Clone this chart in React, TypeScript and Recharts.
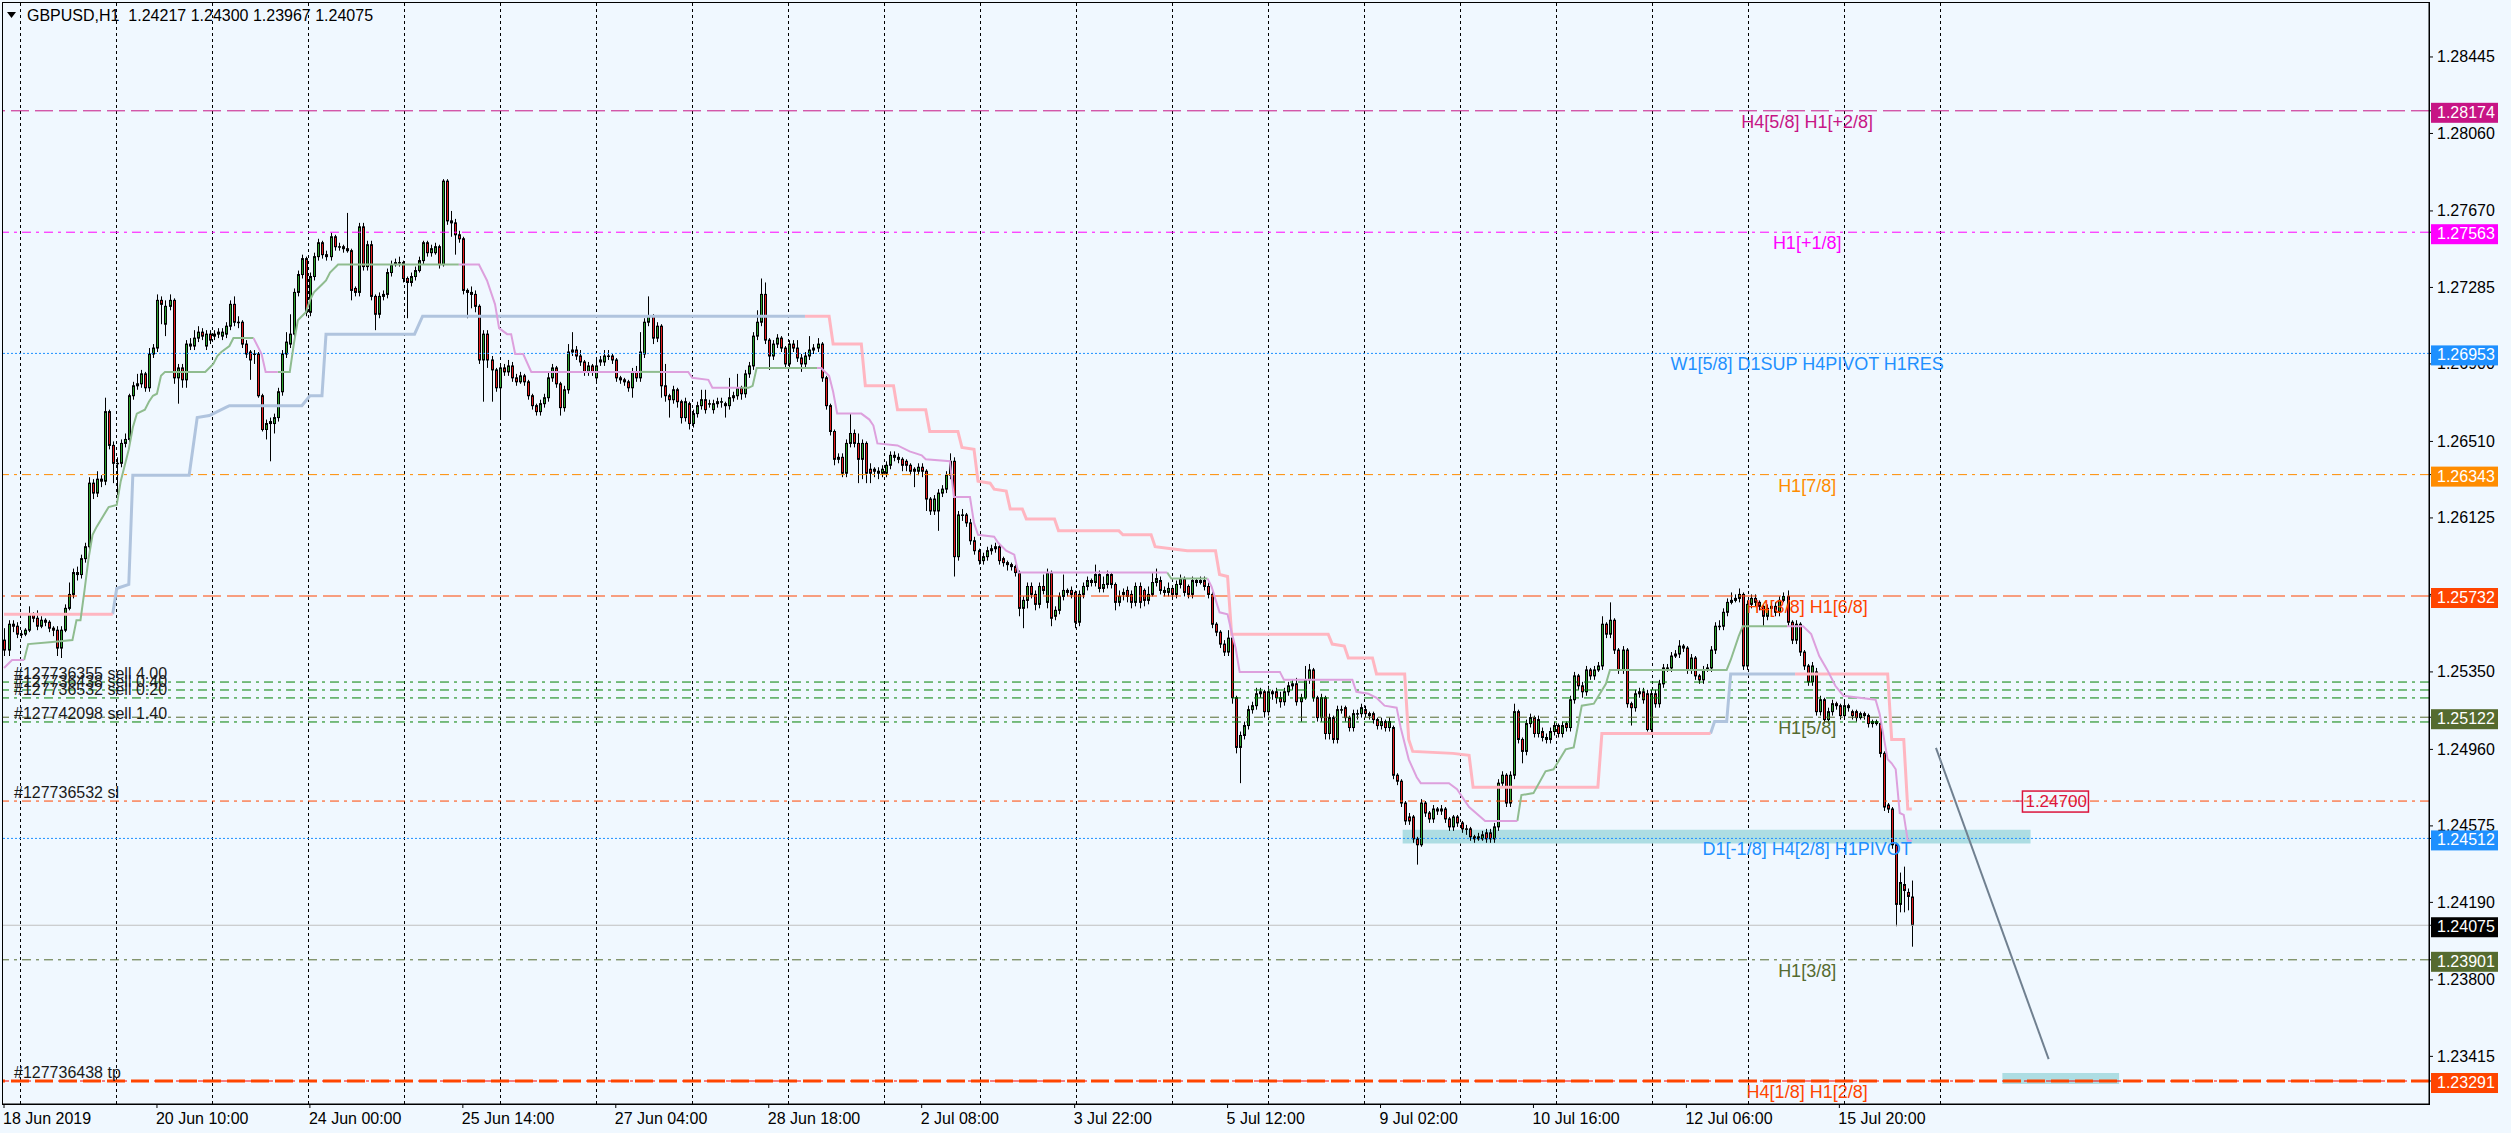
import React from 'react';
import {
  ComposedChart, Bar, Line, XAxis, YAxis, CartesianGrid,
  ReferenceLine, ReferenceArea, ReferenceDot,
} from 'recharts';

const W = 2511;
const H = 1133;
const SLOTS = 603; // 475 H1 bars + empty space on the right
const FONT = '"Liberation Sans", Arial, sans-serif';
const BASE = 1.2; // bar values are pips above 1.2000

// [open, high, low, close]
const jun18to21 = [
  [551,557,543,546],[546,561,543,559],[559,561,555,558],[558,560,552,554],[554,556,552,554],[554,557,553,556],
  [556,568,555,564],[564,565,560,562],[562,566,556,558],[558,563,557,561],[561,562,558,560],[560,561,555,557],
  [557,558,553,556],[556,558,543,547],[547,558,542,556],[556,569,555,567],[567,580,566,574],[574,587,572,585],
  [585,588,581,584],[584,594,582,592],[592,600,590,598],[598,633,596,630],[630,632,622,625],[625,636,623,632],
  [632,634,628,631],[631,673,629,666],[666,667,647,649],[649,651,630,640],[640,643,624,640],[640,652,638,650],
  [650,655,648,652],[652,675,650,674],[674,681,672,679],[679,685,677,680],[680,687,678,685],[685,686,676,678],
  [678,698,676,695],[695,700,693,698],[698,725,696,722],[722,724,710,720],[710,722,704,719],[719,725,717,722],
  [722,723,680,683],[683,690,670,688],[688,690,678,682],[682,702,678,700],[699,703,697,700],[699,707,697,703],
  [703,709,701,706],[706,708,702,704],[699,707,697,705],[705,707,700,702],[704,707,702,705],[705,708,703,706],
  [704,708,702,706],[705,711,703,709],[709,722,707,720],[720,724,709,711],[711,714,708,711],[711,712,698,700],
  [700,702,693,695],[696,697,682,692],[695,697,690,695],[695,696,673,674],[674,675,656,657],[657,662,652,660],
  [660,663,641,661],[660,665,655,663],[663,678,661,676],[676,697,674,695],[695,706,693,701],[700,715,698,705],
  [705,728,703,726],[726,737,724,735],[735,745,733,743],[743,744,714,716],
];
const jun24to28 = [
  [716,736,714,734],[734,746,732,744],[744,753,742,751],[751,752,743,745],[745,747,742,744],[744,756,742,754],
  [754,755,747,749],[749,751,747,749],[749,750,746,748],[748,766,746,747],[747,748,722,727],[728,729,724,726],
  [726,761,724,759],[759,761,737,739],[739,752,737,750],[750,752,722,724],[724,725,707,715],[715,726,713,724],
  [724,727,722,725],[725,738,723,736],[736,742,734,740],[740,743,739,741],[741,744,739,741],[741,742,731,733],
  [733,734,713,731],[731,736,729,734],[734,739,732,737],[737,744,736,742],[742,752,740,751],[751,752,744,746],
  [746,750,744,748],[746,751,745,749],[749,750,738,740],[740,783,739,782],[782,783,760,762],[762,767,754,761],
  [761,763,745,755],[755,757,751,753],[753,754,725,727],[727,728,713,726],[726,729,718,725],[725,727,716,719],
  [719,720,690,692],[692,707,671,705],[705,707,688,692],[692,694,671,687],[687,688,676,678],[678,690,662,688],
  [688,690,684,686],[686,692,684,689],[689,691,681,683],[683,685,679,681],[681,686,680,684],[684,685,679,681],
  [681,682,672,674],[674,675,667,669],[669,670,664,666],[666,672,664,670],[670,675,668,673],[673,686,671,683],
  [683,690,681,688],[688,689,678,680],[680,681,664,668],[668,679,666,677],[677,700,675,696],[696,706,694,697],
  [697,699,692,694],[694,697,689,691],[691,692,684,686],[686,691,684,689],[689,690,684,686],[683,692,681,689],
  [692,694,689,691],[691,697,689,694],[694,697,692,694],[694,695,690,692],[692,693,681,683],[683,684,680,682],
  [682,683,679,681],[681,682,676,678],[678,688,673,686],[686,689,681,683],[683,706,681,696],[695,713,693,711],
  [711,724,709,714],[714,715,700,703],[703,711,701,709],[709,710,673,679],[679,690,671,674],[674,675,663,672],
  [672,679,670,677],[677,678,668,671],[671,672,660,663],[663,673,661,671],[670,671,657,660],[660,667,658,665],
  [665,671,663,669],[669,677,667,672],[672,677,665,667],[670,672,668,670],[667,672,665,670],[670,673,668,671],
  [671,673,668,671],[670,671,663,669],[669,683,667,673],[673,676,671,674],[674,685,672,678],[678,679,672,675],
  [675,687,673,685],[685,691,683,689],[689,706,687,704],[704,717,702,711],[711,733,709,725],[725,731,700,702],
  [702,703,687,694],[694,702,692,700],[700,705,698,703],[703,704,696,698],[698,699,688,690],[690,702,688,700],
];
const jul01to05 = [
  [700,702,696,698],[698,702,691,693],[693,695,686,690],[690,696,688,694],[694,704,692,697],[697,700,695,698],
  [698,703,696,700],[700,701,681,683],[683,684,667,669],[669,670,654,656],[656,657,639,642],[642,645,640,643],
  [643,645,633,635],[635,652,633,650],[650,665,648,655],[655,657,648,650],[650,655,630,642],[642,652,632,650],
  [650,651,630,635],[637,640,630,635],[637,638,633,636],[636,638,632,635],[635,639,633,637],[635,641,633,639],
  [639,646,637,644],[644,646,641,643],[643,645,640,642],[642,643,636,639],[641,642,636,639],[639,640,634,636],
  [637,638,628,636],[636,640,634,638],[638,640,633,636],[636,637,616,622],[622,623,614,616],[616,624,614,622],
  [616,627,606,625],[625,629,623,627],[627,636,625,634],[634,645,632,641],[641,643,583,593],[593,616,591,614],
  [614,617,611,614],[614,615,608,610],[610,612,599,601],[601,603,594,596],[596,597,589,591],[591,595,589,593],
  [593,598,591,596],[596,599,594,597],[597,600,595,598],[598,599,589,591],[592,593,588,590],[590,591,586,589],
  [589,590,586,588],[588,589,583,585],[585,586,563,567],[567,573,557,571],[571,580,567,578],[578,580,572,574],
  [574,576,566,569],[569,580,567,578],[578,584,574,576],[570,587,567,585],[585,586,558,562],[563,568,561,566],
  [566,575,564,573],[573,584,571,576],[576,577,573,575],[576,578,572,574],[575,576,557,560],[560,576,558,574],
  [574,580,572,578],[578,583,576,581],[581,582,578,580],[580,589,578,584],[584,586,575,577],[577,583,575,579],
  [579,586,577,584],[584,585,577,579],[579,580,566,570],[570,576,568,573],[575,577,571,574],[576,578,570,573],
  [574,576,567,570],[570,580,568,578],[578,580,567,570],[576,577,568,571],[571,578,569,574],[574,585,573,580],
  [580,587,578,582],[581,583,574,576],[576,578,573,575],[575,580,573,577],[577,578,572,574],[574,581,572,579],
  [579,584,577,582],[582,583,573,575],[578,579,572,574],[574,583,572,581],[581,582,578,580],[580,583,579,581],
  [581,583,576,578],[578,580,572,574],[574,576,557,559],[559,560,553,555],[555,556,547,549],[549,551,543,545],
  [545,556,543,552],[552,553,519,522],[522,523,494,497],[497,505,479,503],[503,510,501,508],[508,518,506,516],
  [516,520,514,518],[518,527,516,524],[524,527,522,525],[525,526,512,515],[515,528,513,525],[525,526,521,524],
];
const jul08to12 = [
  [525,527,519,522],[522,525,517,520],[520,527,518,525],[525,530,523,528],[528,531,526,529],[529,532,518,520],
  [520,524,510,522],[522,538,521,531],[531,539,529,536],[536,537,520,522],[522,523,510,512],[512,524,510,522],
  [522,523,501,504],[504,514,501,512],[512,513,499,501],[501,518,499,516],[516,518,514,516],[517,518,510,512],
  [512,513,505,507],[507,516,505,514],[514,516,511,514],[514,519,512,517],[516,518,512,514],[514,515,511,513],
  [514,515,509,511],[511,512,506,508],[508,512,506,510],[510,511,505,507],[507,512,505,510],[507,508,481,483],
  [483,484,478,480],[480,481,467,469],[469,470,458,460],[462,464,458,460],[462,463,449,451],[451,452,438,448],
  [448,471,447,469],[469,470,462,464],[464,465,459,461],[461,468,459,466],[466,467,463,465],[465,468,463,466],
  [466,467,459,461],[461,462,455,457],[457,463,455,462],[462,463,457,459],[459,460,454,456],[456,458,453,456],
  [456,457,450,452],[452,453,449,451],[451,454,450,452],[451,455,450,453],[454,456,449,451],[454,456,449,451],
  [451,459,449,457],[457,481,455,479],[479,485,477,483],[483,484,467,469],[469,485,467,483],[483,519,481,515],
  [515,516,499,501],[501,502,489,495],[495,511,493,509],[509,514,507,512],[512,513,502,504],[504,513,502,511],
  [505,507,500,502],[502,504,499,501],[501,507,499,505],[505,510,503,508],[508,509,502,504],[504,510,502,508],
  [509,510,505,507],[507,523,505,521],[521,535,519,533],[533,534,526,528],[528,530,522,525],[525,538,523,536],
  [536,537,531,533],[533,538,531,536],[536,540,535,538],[538,563,536,559],[559,560,552,554],[554,570,552,561],
  [561,562,544,546],[546,547,534,536],[536,548,534,546],[546,547,517,519],[519,520,508,517],[517,526,515,524],
  [524,527,522,525],[525,527,519,521],[524,526,505,506],[506,526,504,524],[524,526,517,519],[519,531,517,529],
  [529,539,527,537],[537,539,535,537],[537,545,535,543],[543,546,542,544],[544,551,542,548],[548,549,545,547],
  [547,548,534,536],[536,544,534,542],[542,543,531,533],[533,534,529,531],[531,538,529,536],[536,539,535,537],
  [537,548,535,546],[546,560,544,558],[558,561,556,558],[558,567,556,565],[565,572,563,570],[570,575,569,571],
  [571,574,570,572],[572,577,570,574],[574,575,536,538],[538,571,536,569],[569,574,567,572],[572,574,568,570],
];
const jul15to16 = [
  [570,571,566,568],[568,569,558,563],[563,569,561,567],[567,570,565,568],[568,570,563,565],[565,573,563,571],
  [571,575,570,573],[573,576,558,560],[560,561,549,551],[551,561,549,559],[559,560,543,545],[545,546,536,538],
  [538,539,528,530],[530,540,528,538],[535,537,513,515],[515,523,513,521],[521,522,509,511],[511,517,509,515],
  [515,521,513,519],[519,520,516,518],[518,519,511,513],[513,520,511,518],[518,519,515,517],[515,516,511,513],
  [515,516,510,512],[512,515,511,514],[514,515,511,513],[513,514,507,509],[509,511,507,510],[510,511,508,509],
  [509,510,492,494],[494,495,465,467],[468,469,464,466],[466,467,446,448],[448,449,407,418],[418,434,414,429],
  [428,437,414,425],[424,426,415,422],[421.7,430,396.7,407.5],
];

// trailing-stop style indicator lines: [bar index, pips above 1.2000]
const greenTrail = [
  [[5,541],[6,549],[12,550],[17,551],[18,561],[19,561],[20,576],[21,592],[22,604],[23,608],[26,618],[28,619],[29,631],[31,647],[32,658],[33,665],[35,667],[36,671],[37,674],[38,675],[39,684],[40,686],[50,686],[52,690],[53,694],[54,696],[56,699],[57,703],[62,703]],
  [[68,686],[71,686],[72,700],[73,712],[75,716],[76,722],[77,726],[79,730],[80,732],[81,736],[83,740],[113,740]],
  [[158,686],[163,686]],
  [[183,678],[185,678],[186,679],[187,688],[202,688]],
  [[289,585],[290,582],[299,582]],
  [[376,460],[377,473],[380,474],[383,485],[385,486],[388,496],[390,497],[392,518],[395,519],[398,529],[399,536],[428,536],[429,541],[431,553],[432,558],[443,558]],
];
const plumTrail = [
  [[0,537],[2,541],[5,541]],
  [[62,703],[64,695],[65,686],[68,686]],
  [[113,740],[118,740],[119,736],[120,732],[122,720],[123,708],[125,705],[126,705],[127,695],[129,695],[131,686],[158,686]],
  [[163,686],[170,686],[171,683],[175,682],[176,678],[183,678]],
  [[202,688],[203,688],[205,684],[206,676],[207,665],[213,665],[215,662],[216,659],[217,650],[222,649],[225,646],[228,644],[229,642],[235,641],[236,623],[240,623],[241,610],[242,604],[246,603],[247,600],[249,596],[251,594],[252,585],[289,585]],
  [[299,582],[300,578],[302,565],[304,564],[305,555],[306,547],[307,535],[317,535],[318,531],[335,531],[336,525],[339,524],[341,522],[343,518],[346,517],[347,507],[349,491],[351,482],[352,479],[359,479],[361,476],[364,467],[368,460],[376,460]],
  [[443,558],[447,558],[449,554],[451,543],[453,536],[455,528],[457,523],[465,521],[466,514],[468,491],[469,489],[470,486],[471,464],[472,463],[473,450],[474,450]],
];
const pinkTrail = [
  [[0,564],[27,564]],
  [[199,714],[205,714],[206,700],[213,700],[214,679],[221,679],[222,667],[229,667],[230,656],[237,656],[238,648],[241,647],[242,631],[245,630],[246,627],[249,626],[250,617],[253,617],[254,612],[261,612],[262,606],[277,606],[278,604],[285,604],[286,598],[290,597],[294,596],[301,596],[302,584],[304,583],[305,554],[329,554],[330,549],[333,548],[334,542],[340,542],[341,534],[348,534],[349,501],[350,495],[360,494],[364,493],[365,477],[396,477],[397,504],[424,504]],
  [[445,534],[468,534],[469,501],[472,501],[473,466],[474,466]],
];
const steelTrail = [
  [[27,564],[28,577],[31,579],[32,634],[46,634],[48,663],[51,664],[52,665],[55,668],[56,669],[74,669],[76,674],[79,674],[80,705],[102,705],[104,714],[199,714]],
  [[424,504],[425,510],[428,510],[429,534],[445,534]],
];

const dateTicks = [0, 38, 76, 114, 152, 190, 228, 266, 304, 342, 380, 418, 456];
const dateLabels = ['18 Jun 2019', '20 Jun 10:00', '24 Jun 00:00', '25 Jun 14:00', '27 Jun 04:00', '28 Jun 18:00',
  '2 Jul 08:00', '3 Jul 22:00', '5 Jul 12:00', '9 Jul 02:00', '10 Jul 16:00', '12 Jul 06:00', '15 Jul 20:00'];
const priceTicks = [1.23415, 1.238, 1.2419, 1.24575, 1.2496, 1.2535, 1.2574, 1.26125, 1.2651, 1.269,
  1.27285, 1.2767, 1.2806, 1.28445];

// murrey math levels
const levelPrices = [1.28174, 1.27563, 1.26953, 1.26343, 1.25732, 1.25122, 1.24512, 1.23901, 1.23291];
const levelTexts = ['H4[5/8] H1[+2/8]', 'H1[+1/8]', 'W1[5/8] D1SUP H4PIVOT H1RES', 'H1[7/8]', 'H4[3/8] H1[6/8]',
  'H1[5/8]', 'D1[-1/8] H4[2/8] H1PIVOT', 'H1[3/8]', 'H4[1/8] H1[2/8]'];

// open orders
const tradePrices = [1.25299, 1.25259, 1.25219, 1.25098];
const tradeTexts = ['#127736355 sell 4.00', '#127736438 sell 0.40', '#127736532 sell 0.20', '#127742098 sell 1.40'];
const slPrice = 1.247;
const slText = '#127736532 sl';
const tpPrice = 1.23291;
const tpText = '#127736438 tp';
const lastPrice = 1.24075;
const title = 'GBPUSD,H1  1.24217 1.24300 1.23967 1.24075';

// highlighted zones and the projection line
const zoneA = { x1: 348, x2: 503, y1: 1.24486, y2: 1.24556 };
const zoneB = { x1: 497, x2: 525, y1: 1.23276, y2: 1.23331 };
const projection = [{ x: 480, y: 1.24968 }, { x: 508, y: 1.23401 }];
const slTagAt = 500;
const levelTextAt = 448;

const DASH = '18 6';
const DASHDOT = '9 5 3 5';
const DOT = '2 2';
const levelStyle = [
  { color: '#C71585', dash: DASH },
  { color: '#FF00FF', dash: DASHDOT },
  { color: '#1E90FF', dash: DOT },
  { color: '#FF8C00', dash: DASHDOT },
  { color: '#FF4500', dash: DASH },
  { color: '#556B2F', dash: DASHDOT },
  { color: '#1E90FF', dash: DOT },
  { color: '#556B2F', dash: DASHDOT },
  { color: '#FF4500', dash: DASH },
];

// axis price boxes: the level prices plus the last price
const boxPrices = [...levelPrices, lastPrice];
const boxColors = [...levelStyle.map((s) => s.color), '#000000'];

const px = (v: number) => BASE + v / 10000;

const candles = [...jun18to21, ...jun24to28, ...jul01to05, ...jul08to12, ...jul15to16];
const rows: any[] = Array.from({ length: SLOTS }, (_, i) => ({ i }));
candles.forEach(([o, h, l, c], i) => {
  Object.assign(rows[i], { o: px(o), h: px(h), l: px(l), c: px(c), range: [px(l), px(h)] });
});

const trails = [
  ...steelTrail.map((pts) => ({ pts, color: '#B0C4DE', width: 3 })),
  ...pinkTrail.map((pts) => ({ pts, color: '#FFB6C1', width: 3 })),
  ...greenTrail.map((pts) => ({ pts, color: '#8FBC8F', width: 2 })),
  ...plumTrail.map((pts) => ({ pts, color: '#DDA0DD', width: 2 })),
];
trails.forEach((t, k) => t.pts.forEach(([i, v]) => { rows[i]['t' + k] = px(v); }));

const Candle = (props: any) => {
  const { x, y, width, height, payload } = props;
  if (!payload || payload.h == null) return null;
  const cx = Math.round(x + width / 2);
  const span = payload.h - payload.l;
  const k = span > 0 ? height / span : 0;
  const top = y + (payload.h - Math.max(payload.o, payload.c)) * k;
  const bot = y + (payload.h - Math.min(payload.o, payload.c)) * k;
  const up = payload.c >= payload.o;
  return (
    <g>
      <line x1={cx + 0.5} x2={cx + 0.5} y1={y} y2={y + height} stroke="#000" strokeWidth={1} />
      <rect x={cx - 0.5} y={top} width={2} height={Math.max(bot - top, 0.5)}
        fill={up ? '#2CA02C' : '#E31A1C'} stroke="#000" strokeWidth={1} />
    </g>
  );
};

const DateTick = (props: any) => {
  const { x, y, payload } = props;
  const k = dateTicks.indexOf(payload.value);
  return (
    <text x={x - 1} y={y + 14} fontSize={16} fontFamily={FONT} fill="#000">{dateLabels[k]}</text>
  );
};

// plain price ticks first, then the coloured boxes so they sit on top
const PriceTick = (props: any) => {
  const { x, y, payload } = props;
  const k = boxPrices.indexOf(payload.value);
  if (k >= 0) {
    return (
      <g>
        <rect x={x - 6} y={y - 8} width={67} height={20} fill={boxColors[k]} />
        <text x={x} y={y + 7} fontSize={16} fontFamily={FONT} fill="#fff">{payload.value.toFixed(5)}</text>
      </g>
    );
  }
  return <text x={x} y={y + 5.5} fontSize={16} fontFamily={FONT} fill="#000">{payload.value.toFixed(5)}</text>;
};

export default function App() {
  return (
    <div style={{ position: 'fixed', left: 0, top: 0, width: W, height: H, background: '#F0F8FF', overflow: 'hidden' }}>
      <ComposedChart width={W} height={H} data={rows} margin={{ top: 3, right: 0, bottom: 0, left: 2 }}
        style={{ position: 'absolute', left: 0, top: 0 }}>
        <CartesianGrid horizontal={false} stroke="#000" strokeDasharray="3 3"
          verticalCoordinatesGenerator={({ offset }: any) =>
            Array.from({ length: 21 }, (_, k) => Math.round(offset.left + 17.6 + 96 * k) + 0.5)} />
        <XAxis dataKey="i" type="category" ticks={dateTicks} interval={0} height={29}
          tick={<DateTick />} tickSize={4} tickMargin={2}
          axisLine={{ stroke: '#000' }} tickLine={{ stroke: '#000' }} />
        <YAxis orientation="right" type="number" width={82} domain={[1.231753, 1.287166]} allowDataOverflow
          ticks={[...priceTicks, ...boxPrices]} interval={0}
          tick={<PriceTick />} tickSize={4} tickMargin={4}
          axisLine={{ stroke: '#000' }} tickLine={{ stroke: '#000' }} />

        <ReferenceArea x1={zoneA.x1} x2={zoneA.x2} y1={zoneA.y1} y2={zoneA.y2} fill="#ADDDE3" fillOpacity={1} stroke="none" ifOverflow="visible" />
        <ReferenceArea x1={zoneB.x1} x2={zoneB.x2} y1={zoneB.y1} y2={zoneB.y2} fill="#ADDDE3" fillOpacity={1} stroke="none" ifOverflow="visible" />

        {tradePrices.map((p, k) => (
          <ReferenceLine key={'tr' + k} y={p} stroke="#008000" strokeDasharray={DASHDOT} />
        ))}
        <ReferenceLine y={slPrice} stroke="#FF4500" strokeDasharray={DASHDOT} />
        <ReferenceLine y={tpPrice} stroke="#FF0000" strokeDasharray={DASHDOT} />
        <ReferenceLine y={lastPrice} stroke="#C0C0C0" />
        {levelPrices.map((p, k) => (
          <ReferenceLine key={'lv' + k} y={p} stroke={levelStyle[k].color} strokeDasharray={levelStyle[k].dash}
            strokeWidth={p === tpPrice ? 3 : 1} />
        ))}

        {trails.map((t, k) => (
          <Line key={'t' + k} dataKey={'t' + k} stroke={t.color} strokeWidth={t.width} dot={false}
            activeDot={false} connectNulls isAnimationActive={false} />
        ))}

        <Bar dataKey="range" barSize={3} shape={<Candle />} isAnimationActive={false} />

        <ReferenceLine segment={projection} stroke="#708090" strokeWidth={2} ifOverflow="visible" />

        {levelPrices.map((p, k) => (
          <ReferenceDot key={'lt' + k} x={levelTextAt} y={p} r={0} ifOverflow="visible"
            shape={(d: any) => (
              <text x={d.cx} y={d.cy + 17} textAnchor="middle" fontSize={18} fontFamily={FONT}
                fill={levelStyle[k].color}>{levelTexts[k]}</text>
            )} />
        ))}
        {tradePrices.map((p, k) => (
          <ReferenceDot key={'tt' + k} x={0} y={p} r={0} ifOverflow="visible"
            shape={(d: any) => (
              <text x={d.cx + 10} y={d.cy - 3} fontSize={16} fontFamily={FONT} fill="#1a1a1a">{tradeTexts[k]}</text>
            )} />
        ))}
        <ReferenceDot x={0} y={slPrice} r={0} ifOverflow="visible"
          shape={(d: any) => <text x={d.cx + 10} y={d.cy - 3} fontSize={16} fontFamily={FONT} fill="#1a1a1a">{slText}</text>} />
        <ReferenceDot x={0} y={tpPrice} r={0} ifOverflow="visible"
          shape={(d: any) => <text x={d.cx + 10} y={d.cy - 3} fontSize={16} fontFamily={FONT} fill="#1a1a1a">{tpText}</text>} />
        <ReferenceDot x={slTagAt} y={slPrice} r={0} ifOverflow="visible"
          shape={(d: any) => (
            <g>
              <line x1={d.cx - 4} x2={d.cx + 6} y1={d.cy} y2={d.cy} stroke="#DC143C" strokeWidth={1} />
              <rect x={d.cx + 6} y={d.cy - 10} width={66} height={21} fill="none" stroke="#DC143C" strokeWidth={1.5} />
              <text x={d.cx + 9} y={d.cy + 6} fontSize={17} fontFamily={FONT} fill="#DC143C">{slPrice.toFixed(5)}</text>
            </g>
          )} />
      </ComposedChart>
      <svg width={W} height={H} style={{ position: 'absolute', left: 0, top: 0, pointerEvents: 'none' }}>
        <rect x={2.5} y={2.5} width={2427} height={1102} fill="none" stroke="#000" strokeWidth={1} />
        <polygon points="7,12 16,12 11.5,18" fill="#000" />
        <text x={27} y={21} fontSize={16} fontFamily={FONT} fill="#000" style={{ whiteSpace: 'pre' }}>{title}</text>
      </svg>
    </div>
  );
}
